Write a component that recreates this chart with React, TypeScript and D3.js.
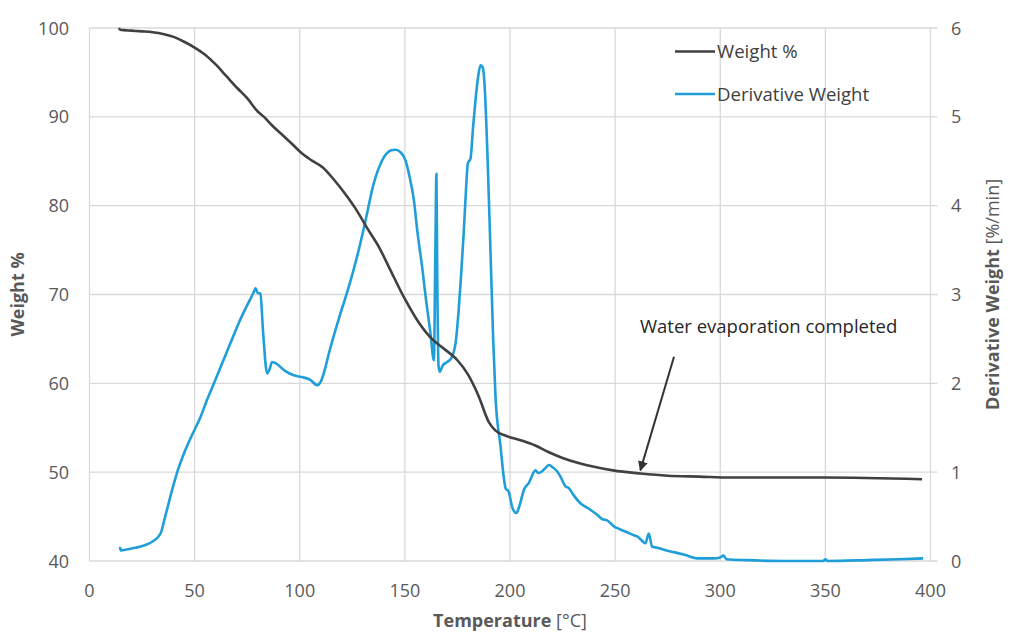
import React from "react";
import * as d3 from "d3";

const weightData: [number, number][] = [
  [14.0, 100.0], [14.6, 99.8], [20, 99.7], [25, 99.62], [30, 99.52], [35, 99.33], [40, 99.0], [45, 98.45],
  [50, 97.8], [55, 97.0], [60, 95.9], [65, 94.6], [70, 93.3], [75, 92.1], [80, 90.6],
  [83, 90.0], [87, 89.0], [92, 87.9], [97, 86.8], [100, 86.1], [105, 85.2], [111, 84.3],
  [116, 83.0], [122, 81.2], [127, 79.5], [132, 77.5], [138, 75.2], [143, 72.8], [150, 69.5],
  [157, 66.7], [162, 65.2], [168, 64.0], [175, 62.6], [180, 61.0], [185, 58.6], [190, 55.6],
  [193, 54.7], [198, 54.1], [205, 53.6], [212, 53.0], [218, 52.3], [225, 51.6], [233, 51.0],
  [240, 50.6], [249, 50.2], [262, 49.85], [275, 49.6], [290, 49.5], [305, 49.4], [350, 49.4],
  [396, 49.2],
];

const derivData: [number, number][] = [
  [14.5, 0.16], [14.8, 0.12], [20, 0.14], [26.6, 0.18], [30, 0.22], [33.8, 0.31], [36, 0.5],
  [39.3, 0.8], [42, 1.02], [44.9, 1.21], [48, 1.38], [52.8, 1.62], [56, 1.82], [59.9, 2.04],
  [63, 2.22], [67, 2.45], [71, 2.68], [75, 2.88], [78, 3.02], [79, 3.07], [80, 3.02],
  [81.3, 3.01], [82.5, 2.6], [84.5, 2.11], [85.5, 2.15], [86.9, 2.24], [89, 2.22], [93, 2.14],
  [97.2, 2.09], [101, 2.07], [105, 2.04], [108.3, 1.98], [110, 2.02], [111.4, 2.11],
  [114, 2.35], [119.4, 2.79], [123, 3.06], [127.3, 3.43], [131, 3.8], [135.2, 4.25],
  [139, 4.5], [143.2, 4.62], [145.5, 4.63], [148, 4.6], [150.3, 4.51], [152, 4.35],
  [154.3, 4.06], [156, 3.7], [158.2, 3.31], [160, 2.95], [162.2, 2.56], [163.8, 2.26],
  [164.5, 3.5], [165, 4.36], [165.4, 3.2], [166, 2.2], [166.6, 2.13], [168, 2.2],
  [170.1, 2.24], [172, 2.28], [174.1, 2.45], [175.5, 2.8], [176.5, 3.13], [178, 3.7],
  [178.8, 4.06], [180, 4.48], [181.2, 4.53], [182.5, 4.9], [183.6, 5.19], [185, 5.48],
  [186, 5.58], [187, 5.56], [187.8, 5.4], [189.2, 4.63], [190.7, 3.5], [192, 2.5],
  [193.1, 1.85], [195.5, 1.29], [197, 0.95], [197.9, 0.82], [199.4, 0.78], [201, 0.61],
  [203, 0.54], [204.5, 0.62], [206.6, 0.8], [209, 0.88], [212.1, 1.02], [213.5, 0.99],
  [215.3, 1.01], [217, 1.05], [218.5, 1.08], [220, 1.06], [222.4, 1.01], [224, 0.95],
  [226.4, 0.84], [228, 0.82], [230, 0.75], [233.5, 0.65], [236, 0.61], [238, 0.58],
  [241.5, 0.52], [244, 0.47], [246, 0.46], [249.4, 0.39], [252, 0.36], [255, 0.33],
  [258.9, 0.29], [261, 0.27], [264.4, 0.2], [266, 0.31], [267.6, 0.16], [270, 0.15],
  [274, 0.12], [277.9, 0.1], [283, 0.07], [289, 0.03], [296.8, 0.03], [300, 0.04],
  [301.5, 0.06], [303, 0.02], [312.6, 0.01], [330, 0.0], [349, 0.0], [350, 0.02], [351, 0.0],
  [370, 0.01], [385, 0.02], [396.5, 0.03],
];

const xTicks = [0, 50, 100, 150, 200, 250, 300, 350, 400];
const yLeftTicks = [40, 50, 60, 70, 80, 90, 100];
const yRightTicks = [0, 1, 2, 3, 4, 5, 6];
const legendItems = [
  { label: "Weight %", color: "#404040" },
  { label: "Derivative Weight", color: "#1f9ed9" },
];
const annotationText = "Water evaporation completed";

const W = 1013;
const H = 644;
const FONT = "'Open Sans', 'Noto Sans', sans-serif";

export default function App() {
  const x = d3.scaleLinear().domain([0, 400]).range([89.5, 930.5]);
  const yL = d3.scaleLinear().domain([40, 100]).range([561, 28]);
  const yR = d3.scaleLinear().domain([0, 6]).range([561, 28]);

  const lineW = d3
    .line<[number, number]>()
    .x((d) => x(d[0]))
    .y((d) => yL(d[1]))
    .curve(d3.curveMonotoneX);
  const lineD = d3
    .line<[number, number]>()
    .x((d) => x(d[0]))
    .y((d) => yR(d[1]))
    .curve(d3.curveMonotoneX);

  const left = x(0);
  const right = x(400);
  const top = yL(100);
  const bottom = yL(40);

  const arrowTip: [number, number] = [x(262), yL(50.2)];
  const arrowStart: [number, number] = [x(278), yL(63.0)];

  return (
    <svg
      width={W}
      height={H}
      style={{ position: "absolute", left: 0, top: 0, background: "#fff" }}
      fontFamily={FONT}
    >
      <defs>
        <marker
          id="arrowHead"
          viewBox="0 0 10 10"
          refX="9"
          refY="5"
          markerWidth="5"
          markerHeight="5"
          orient="auto"
        >
          <path d="M0,0 L10,5 L0,10 z" fill="#333" />
        </marker>
      </defs>
      {xTicks.map((t) => (
        <line key={"gx" + t} x1={x(t)} x2={x(t)} y1={top} y2={bottom} stroke="#d9d9d9" strokeWidth={1.3} />
      ))}
      {yLeftTicks.map((t) => (
        <line key={"gy" + t} x1={left} x2={right + 7} y1={yL(t)} y2={yL(t)} stroke="#d9d9d9" strokeWidth={1.3} />
      ))}
      {xTicks.map((t) => (
        <text key={"xt" + t} x={x(t)} y={597} textAnchor="middle" fontSize={18} fill="#595959">
          {t}
        </text>
      ))}
      {yLeftTicks.map((t) => (
        <text key={"yl" + t} x={69} y={yL(t) + 6.5} textAnchor="end" fontSize={18} fill="#595959">
          {t}
        </text>
      ))}
      {yRightTicks.map((t) => (
        <text key={"yr" + t} x={951} y={yR(t) + 6.5} textAnchor="start" fontSize={18} fill="#595959">
          {t}
        </text>
      ))}
      <text x={510} y={627} textAnchor="middle" fontSize={18} fill="#595959">
        <tspan fontWeight="bold">Temperature</tspan>
        <tspan> [°C]</tspan>
      </text>
      <text
        transform={`translate(24,${(top + bottom) / 2}) rotate(-90)`}
        textAnchor="middle"
        fontSize={18}
        fontWeight="bold"
        fill="#595959"
      >
        Weight %
      </text>
      <text
        transform={`translate(999,${(top + bottom) / 2}) rotate(-90)`}
        textAnchor="middle"
        fontSize={18}
        fill="#595959"
      >
        <tspan fontWeight="bold">Derivative Weight</tspan>
        <tspan> [%/min]</tspan>
      </text>
      <path d={lineD(derivData) || ""} fill="none" stroke="#1f9ed9" strokeWidth={2.6} strokeLinejoin="round" />
      <path d={lineW(weightData) || ""} fill="none" stroke="#404040" strokeWidth={2.6} strokeLinejoin="round" />
      {legendItems.map((it, i) => (
        <g key={it.label} transform={`translate(675,${51.5 + i * 42.5})`}>
          <line x1={0} x2={40} y1={0} y2={0} stroke={it.color} strokeWidth={2.6} />
          <text x={42} y={6.5} fontSize={18.6} fill="#404040">
            {it.label}
          </text>
        </g>
      ))}
      <text x={640} y={333} fontSize={18.5} fill="#262626">
        {annotationText}
      </text>
      <line
        x1={arrowStart[0]}
        y1={arrowStart[1]}
        x2={arrowTip[0]}
        y2={arrowTip[1]}
        stroke="#333"
        strokeWidth={2}
        markerEnd="url(#arrowHead)"
      />
    </svg>
  );
}
